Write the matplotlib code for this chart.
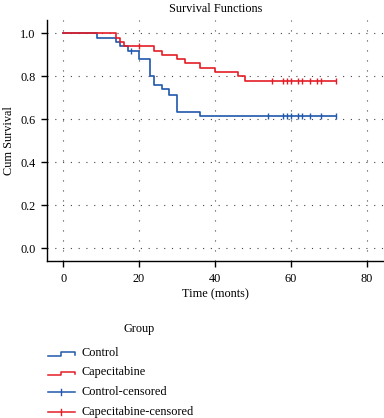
import matplotlib
matplotlib.use("Agg")
import matplotlib.pyplot as plt
from matplotlib.lines import Line2D

plt.rcParams['font.family'] = ['Liberation Serif', 'DejaVu Serif']

# ---- data ----
groups = ["Control", "Capecitabine"]
control_times = [0, 9, 14, 15, 17, 20, 23, 24, 26, 28, 30, 36, 72]
control_surv = [1.0, 0.98, 0.96, 0.94, 0.92, 0.88, 0.80, 0.76, 0.74, 0.715, 0.635, 0.613, 0.613]
control_cens_times = [18, 54, 58, 59, 60, 62, 63, 65, 68, 72]
control_cens_surv = [0.92, 0.613, 0.613, 0.613, 0.613, 0.613, 0.613, 0.613, 0.613, 0.613]

cape_times = [0, 14, 15, 16, 24, 26, 30, 32, 36, 40, 46, 48, 72]
cape_surv = [1.0, 0.98, 0.96, 0.94, 0.92, 0.90, 0.88, 0.86, 0.84, 0.82, 0.80, 0.778, 0.778]
cape_cens_times = [20, 55, 58, 59, 60, 62, 63, 65, 67, 68, 72]
cape_cens_surv = [0.94, 0.778, 0.778, 0.778, 0.778, 0.778, 0.778, 0.778, 0.778, 0.778, 0.778]

x_ticks = [0, 20, 40, 60, 80]
y_ticks = [0.0, 0.2, 0.4, 0.6, 0.8, 1.0]
legend_labels = ["Control", "Capecitabine", "Control-censored", "Capecitabine-censored"]

BLUE = '#1f58ac'
RED = '#e41c26'
FS = 8.8

W, H = 384, 418
fig = plt.figure(figsize=(W / 100, H / 100), dpi=100)

def px(x, y):
    return x / W, 1 - y / H

ax = fig.add_axes([47.3 / W, 1 - 260.7 / H, (W - 47.3) / W, (260.7 - 20) / H])
ax.set_xlim(-4.2, 84.6)
ax.set_ylim(-0.058, 1.062)

# grid
for yt in y_ticks:
    ax.axhline(yt, color='#444444', lw=0.8, ls=(0, (1, 6)), zorder=0)
for xt in x_ticks:
    ax.axvline(xt, color='#444444', lw=0.8, ls=(0, (1, 8)), zorder=0)

ax.step(control_times, control_surv, where='post', color=BLUE, lw=1.2, zorder=3)
ax.step(cape_times, cape_surv, where='post', color=RED, lw=1.2, zorder=4)
ax.plot(control_cens_times, control_cens_surv, ls='none', marker='|', ms=5,
        mew=1.0, color=BLUE, zorder=3)
ax.plot(cape_cens_times, cape_cens_surv, ls='none', marker='|', ms=5,
        mew=1.0, color=RED, zorder=4)

ax.set_xticks(x_ticks)
ax.set_xticklabels([str(v) for v in x_ticks])
ax.set_yticks(y_ticks)
ax.set_yticklabels([f"{v:.1f}" for v in y_ticks])
ax.tick_params(axis='both', length=4.5, width=1.0, labelsize=FS, pad=4, color='black')
for s in ['top', 'right']:
    ax.spines[s].set_visible(False)
for s in ['left', 'bottom']:
    ax.spines[s].set_linewidth(1.0)

ax.set_xlabel("Time (monts)", fontsize=FS, labelpad=3)
ax.set_ylabel("Cum Survival", fontsize=FS, labelpad=4)

fig.text(*px(216, 9), "Survival Functions", fontsize=FS, ha='center', va='center')

# legend (drawn manually)
fig.text(*px(139, 329), "Group", fontsize=FS, ha='center', va='center')
rows = [353.3, 372.5, 392.3, 411.7]
colors = [BLUE, RED, BLUE, RED]
for i, (lab, yc, c) in enumerate(zip(legend_labels, rows, colors)):
    if i < 2:
        xs = [48, 60.7, 60.7, 74.5, 74.5]
        ys = [yc + 2.7, yc + 2.7, yc - 1.0, yc - 1.0, yc + 1.8]
    else:
        xs = [48, 75]
        ys = [yc, yc]
    fxs = [x / W for x in xs]
    fys = [1 - y / H for y in ys]
    fig.add_artist(Line2D(fxs, fys, color=c, lw=1.1, transform=fig.transFigure))
    if i >= 2:
        fig.add_artist(Line2D([61 / W, 61 / W], [1 - (yc - 3) / H, 1 - (yc + 3) / H],
                              color=c, lw=1.0, transform=fig.transFigure))
    fig.text(*px(82, yc), lab, fontsize=FS, ha='left', va='center')

fig.savefig("out.png", dpi=100)
